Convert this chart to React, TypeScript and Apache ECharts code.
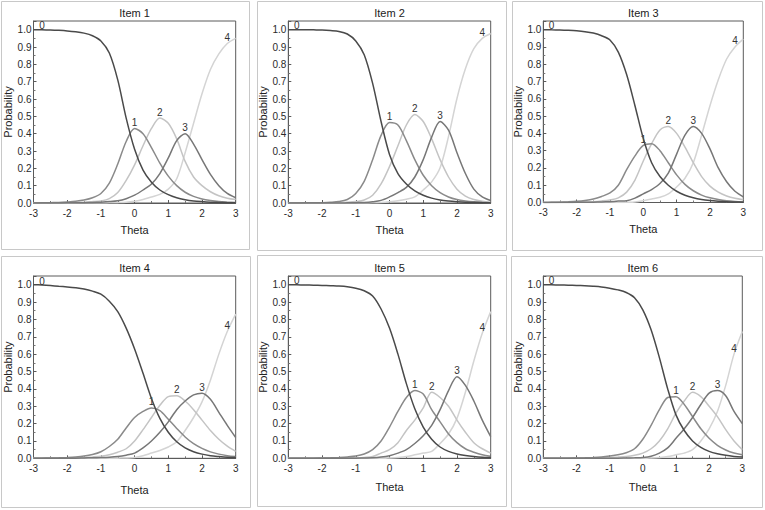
import { useEffect, useRef } from "react";
import * as echarts from "echarts";

// ---------- data ----------
const theta = [-3, -2.75, -2.5, -2.25, -2, -1.75, -1.5, -1.25, -1, -0.75, -0.5, -0.25, 0, 0.25, 0.5, 0.75, 1, 1.25, 1.5, 1.75, 2, 2.25, 2.5, 2.75, 3];
const xTickValues = [-3, -2, -1, 0, 1, 2, 3];
const yTickValues = [0, 0.1, 0.2, 0.3, 0.4, 0.5, 0.6, 0.7, 0.8, 0.9, 1.0];
const categoryNames = ["0", "1", "2", "3", "4"];
const itemTitles = ["Item 1", "Item 2", "Item 3", "Item 4", "Item 5", "Item 6"];

const item1Cat0 = [1.0, 0.999, 0.998, 0.996, 0.993, 0.988, 0.98, 0.965, 0.935, 0.865, 0.71, 0.49, 0.31, 0.19, 0.12, 0.075, 0.048, 0.03, 0.019, 0.012, 0.008, 0.005, 0.003, 0.002, 0.001];
const item1Cat1 = [0.0, 0.001, 0.002, 0.003, 0.006, 0.01, 0.017, 0.03, 0.055, 0.115, 0.225, 0.355, 0.43, 0.4, 0.32, 0.23, 0.155, 0.1, 0.062, 0.038, 0.023, 0.014, 0.008, 0.005, 0.003];
const item1Cat2 = [0, 0, 0.001, 0.001, 0.002, 0.003, 0.005, 0.008, 0.012, 0.025, 0.06, 0.13, 0.22, 0.33, 0.43, 0.49, 0.46, 0.37, 0.24, 0.15, 0.1, 0.065, 0.042, 0.028, 0.02];
const item1Cat3 = [0, 0, 0, 0, 0.001, 0.001, 0.002, 0.003, 0.005, 0.008, 0.013, 0.025, 0.045, 0.075, 0.11, 0.17, 0.26, 0.36, 0.4, 0.34, 0.25, 0.165, 0.1, 0.055, 0.03];
const item1Cat4 = [0, 0, 0, 0, 0, 0, 0, 0, 0, 0.001, 0.002, 0.004, 0.01, 0.02, 0.035, 0.05, 0.08, 0.14, 0.29, 0.46, 0.63, 0.77, 0.86, 0.92, 0.95];

const item2Cat0 = [1.0, 1.0, 1.0, 0.999, 0.998, 0.995, 0.99, 0.975, 0.935, 0.855, 0.69, 0.47, 0.28, 0.17, 0.11, 0.07, 0.045, 0.028, 0.017, 0.011, 0.007, 0.004, 0.003, 0.002, 0.001];
const item2Cat1 = [0, 0, 0.001, 0.001, 0.002, 0.004, 0.008, 0.02, 0.055, 0.125, 0.25, 0.39, 0.465, 0.45, 0.36, 0.25, 0.16, 0.1, 0.06, 0.035, 0.02, 0.012, 0.007, 0.004, 0.002];
const item2Cat2 = [0, 0, 0, 0, 0, 0.001, 0.002, 0.004, 0.008, 0.017, 0.045, 0.11, 0.21, 0.33, 0.45, 0.51, 0.47, 0.37, 0.25, 0.15, 0.08, 0.04, 0.02, 0.01, 0.005];
const item2Cat3 = [0, 0, 0, 0, 0, 0, 0, 0.001, 0.002, 0.003, 0.007, 0.015, 0.035, 0.06, 0.09, 0.15, 0.25, 0.38, 0.47, 0.42, 0.29, 0.17, 0.08, 0.035, 0.014];
const item2Cat4 = [0, 0, 0, 0, 0, 0, 0, 0, 0, 0, 0.001, 0.003, 0.007, 0.013, 0.022, 0.035, 0.075, 0.122, 0.203, 0.384, 0.603, 0.774, 0.89, 0.95, 0.978];

const item3Cat0 = [1.0, 0.999, 0.998, 0.996, 0.993, 0.988, 0.98, 0.965, 0.94, 0.87, 0.74, 0.56, 0.37, 0.23, 0.15, 0.1, 0.065, 0.042, 0.027, 0.017, 0.011, 0.007, 0.004, 0.003, 0.002];
const item3Cat1 = [0, 0.001, 0.002, 0.004, 0.007, 0.012, 0.02, 0.035, 0.055, 0.1, 0.19, 0.27, 0.33, 0.34, 0.3, 0.23, 0.16, 0.105, 0.068, 0.043, 0.027, 0.017, 0.01, 0.006, 0.004];
const item3Cat2 = [0, 0, 0.001, 0.001, 0.002, 0.003, 0.005, 0.009, 0.015, 0.027, 0.06, 0.13, 0.24, 0.34, 0.42, 0.44, 0.4, 0.32, 0.23, 0.15, 0.095, 0.06, 0.038, 0.024, 0.016];
const item3Cat3 = [0, 0, 0, 0, 0.001, 0.001, 0.002, 0.003, 0.005, 0.008, 0.01, 0.025, 0.05, 0.075, 0.11, 0.17, 0.28, 0.39, 0.44, 0.4, 0.31, 0.2, 0.12, 0.065, 0.033];
const item3Cat4 = [0, 0, 0, 0, 0, 0, 0, 0, 0, 0, 0.001, 0.003, 0.01, 0.02, 0.03, 0.05, 0.09, 0.14, 0.23, 0.39, 0.56, 0.71, 0.83, 0.9, 0.945];

const item4Cat0 = [1.0, 0.998, 0.995, 0.991, 0.987, 0.982, 0.975, 0.963, 0.945, 0.905, 0.845, 0.75, 0.63, 0.49, 0.345, 0.23, 0.15, 0.095, 0.06, 0.038, 0.024, 0.015, 0.01, 0.006, 0.004];
const item4Cat1 = [0, 0.001, 0.002, 0.003, 0.005, 0.008, 0.013, 0.022, 0.038, 0.068, 0.11, 0.175, 0.235, 0.27, 0.29, 0.275, 0.225, 0.172, 0.123, 0.084, 0.057, 0.037, 0.024, 0.015, 0.01];
const item4Cat2 = [0, 0, 0.001, 0.001, 0.002, 0.003, 0.005, 0.008, 0.012, 0.02, 0.035, 0.055, 0.1, 0.165, 0.235, 0.305, 0.355, 0.36, 0.33, 0.28, 0.22, 0.16, 0.11, 0.07, 0.04];
const item4Cat3 = [0, 0, 0, 0, 0.001, 0.001, 0.002, 0.003, 0.004, 0.006, 0.01, 0.018, 0.03, 0.06, 0.1, 0.15, 0.21, 0.28, 0.33, 0.365, 0.375, 0.34, 0.265, 0.19, 0.12];
const item4Cat4 = [0, 0, 0, 0, 0, 0, 0, 0, 0, 0, 0.001, 0.002, 0.005, 0.015, 0.03, 0.045, 0.065, 0.095, 0.16, 0.235, 0.325, 0.45, 0.6, 0.73, 0.83];

const item5Cat0 = [1.0, 0.999, 0.998, 0.997, 0.996, 0.994, 0.992, 0.988, 0.98, 0.965, 0.935, 0.86, 0.75, 0.6, 0.43, 0.285, 0.18, 0.11, 0.065, 0.04, 0.025, 0.016, 0.01, 0.006, 0.004];
const item5Cat1 = [0, 0, 0.001, 0.001, 0.002, 0.003, 0.005, 0.008, 0.013, 0.025, 0.05, 0.1, 0.18, 0.27, 0.35, 0.39, 0.37, 0.28, 0.21, 0.14, 0.09, 0.055, 0.035, 0.02, 0.012];
const item5Cat2 = [0, 0, 0, 0, 0, 0.001, 0.001, 0.002, 0.003, 0.005, 0.01, 0.03, 0.05, 0.09, 0.16, 0.22, 0.29, 0.38, 0.35, 0.3, 0.22, 0.15, 0.09, 0.055, 0.03];
const item5Cat3 = [0, 0, 0, 0, 0, 0, 0, 0.001, 0.001, 0.002, 0.003, 0.007, 0.015, 0.03, 0.05, 0.085, 0.13, 0.19, 0.28, 0.39, 0.47, 0.42, 0.33, 0.22, 0.125];
const item5Cat4 = [0, 0, 0, 0, 0, 0, 0, 0, 0, 0, 0, 0, 0.002, 0.005, 0.01, 0.02, 0.03, 0.04, 0.085, 0.14, 0.23, 0.38, 0.56, 0.72, 0.845];

const item6Cat0 = [1.0, 0.999, 0.998, 0.997, 0.996, 0.994, 0.991, 0.987, 0.98, 0.97, 0.955, 0.925, 0.855, 0.74, 0.58, 0.4, 0.25, 0.16, 0.1, 0.063, 0.04, 0.026, 0.017, 0.011, 0.007];
const item6Cat1 = [0, 0, 0.001, 0.001, 0.002, 0.003, 0.005, 0.008, 0.013, 0.02, 0.032, 0.055, 0.11, 0.19, 0.28, 0.35, 0.355, 0.31, 0.24, 0.17, 0.115, 0.075, 0.048, 0.03, 0.02];
const item6Cat2 = [0, 0, 0, 0, 0.001, 0.001, 0.002, 0.003, 0.005, 0.007, 0.01, 0.017, 0.03, 0.055, 0.1, 0.17, 0.26, 0.33, 0.38, 0.355, 0.3, 0.24, 0.165, 0.1, 0.05];
const item6Cat3 = [0, 0, 0, 0, 0, 0, 0, 0.001, 0.001, 0.001, 0.002, 0.003, 0.005, 0.012, 0.03, 0.06, 0.115, 0.17, 0.235, 0.31, 0.375, 0.39, 0.36, 0.27, 0.2];
const item6Cat4 = [0, 0, 0, 0, 0, 0, 0, 0, 0, 0, 0, 0, 0, 0.002, 0.005, 0.01, 0.02, 0.03, 0.05, 0.1, 0.17, 0.27, 0.42, 0.6, 0.73];

// index (into theta) of the point where each category's number label sits
const item1LabelAt = [1, 12, 15, 18, 23];
const item2LabelAt = [1, 12, 15, 18, 23];
const item3LabelAt = [1, 12, 15, 18, 23];
const item4LabelAt = [1, 14, 17, 20, 23];
const item5LabelAt = [1, 15, 17, 20, 23];
const item6LabelAt = [1, 16, 18, 21, 23];

// ---------- layout / style ----------
const FONT = "'Liberation Sans', Arial, Helvetica, sans-serif";
const catColors = ["#4a4a4a", "#8a8a8a", "#c4c4c4", "#777777", "#d4d4d4"];
const drawOrder = [4, 2, 1, 3, 0];
const gridBoxes = [
  { left: 33.5, top: 21, width: 202.2, height: 182 },
  { left: 288.3, top: 21, width: 202.4, height: 182 },
  { left: 543.3, top: 21, width: 200, height: 181.5 },
  { left: 33.5, top: 276, width: 202.2, height: 182.3 },
  { left: 288.3, top: 276, width: 202.4, height: 182.3 },
  { left: 543.3, top: 276, width: 199, height: 182.3 },
];
const panelBoxes = [
  { x: 1.5, y: 1.5, w: 248, h: 248 },
  { x: 257.5, y: 1.5, w: 249, h: 249 },
  { x: 512.5, y: 1.5, w: 250, h: 249 },
  { x: 1.5, y: 256.5, w: 249, h: 251 },
  { x: 257.5, y: 255.5, w: 249, h: 251 },
  { x: 511.5, y: 256.5, w: 251, h: 251 },
];
const xNameGaps = [21, 21, 21, 26, 23, 23];

export default function App() {
  const ref = useRef<HTMLDivElement>(null);

  useEffect(() => {
    document.body.style.margin = "0";
    if (!ref.current) return;
    const chart = echarts.init(ref.current, null, { renderer: "svg" });

    const items = [
      [item1Cat0, item1Cat1, item1Cat2, item1Cat3, item1Cat4],
      [item2Cat0, item2Cat1, item2Cat2, item2Cat3, item2Cat4],
      [item3Cat0, item3Cat1, item3Cat2, item3Cat3, item3Cat4],
      [item4Cat0, item4Cat1, item4Cat2, item4Cat3, item4Cat4],
      [item5Cat0, item5Cat1, item5Cat2, item5Cat3, item5Cat4],
      [item6Cat0, item6Cat1, item6Cat2, item6Cat3, item6Cat4],
    ];
    const labelAt = [item1LabelAt, item2LabelAt, item3LabelAt, item4LabelAt, item5LabelAt, item6LabelAt];

    const grid = gridBoxes.map((g) => ({
      ...g,
      show: true,
      borderColor: "#5a5a5a",
      borderWidth: 1,
      backgroundColor: "transparent",
    }));

    const xAxis = gridBoxes.map((_, k) => ({
      type: "value",
      gridIndex: k,
      min: -3,
      max: 3,
      interval: 1,
      name: "Theta",
      nameLocation: "middle",
      nameGap: xNameGaps[k],
      nameTextStyle: { fontFamily: FONT, fontSize: 11, color: "#222" },
      axisLine: { show: true, onZero: false, lineStyle: { color: "#5a5a5a", width: 1 } },
      axisTick: { show: true, length: 3, inside: true, lineStyle: { color: "#5a5a5a" } },
      minorTick: { show: true, splitNumber: 2, length: 2, lineStyle: { color: "#777" } },
      splitLine: { show: false },
      axisLabel: {
        margin: 5,
        fontFamily: FONT,
        fontSize: 10,
        color: "#2a2a2a",
        formatter: (v: number) => (xTickValues.includes(v) ? String(v) : ""),
      },
    }));

    const yAxis = gridBoxes.map((_, k) => ({
      type: "value",
      gridIndex: k,
      min: 0,
      max: 1.05,
      interval: 0.1,
      name: "Probability",
      nameLocation: "middle",
      nameGap: 13,
      nameTextStyle: { fontFamily: FONT, fontSize: 11, color: "#222" },
      axisLine: { show: true, onZero: false, lineStyle: { color: "#5a5a5a", width: 1 } },
      axisTick: { show: true, length: 3, inside: true, lineStyle: { color: "#5a5a5a" } },
      minorTick: { show: true, splitNumber: 2, length: 2, lineStyle: { color: "#777" } },
      splitLine: { show: false },
      axisLabel: {
        margin: 2,
        fontFamily: FONT,
        fontSize: 10,
        color: "#2a2a2a",
        customValues: yTickValues,
        formatter: (v: number) =>
          yTickValues.some((t) => Math.abs(t - v) < 1e-6) ? v.toFixed(1) : "",
      },
    }));

    const series: any[] = [];
    items.forEach((cats, k) => {
      drawOrder.forEach((c, order) => {
        series.push({
          type: "line",
          name: `${itemTitles[k]} ${categoryNames[c]}`,
          xAxisIndex: k,
          yAxisIndex: k,
          smooth: 0.3,
          symbol: "circle",
          symbolSize: 0,
          showSymbol: true,
          showAllSymbol: true,
          z: 2 + order,
          lineStyle: { color: catColors[c], width: 1.5 },
          itemStyle: { color: catColors[c] },
          emphasis: { disabled: true },
          silent: true,
          data: theta.map((t, i) =>
            i === labelAt[k][c]
              ? {
                  value: [t, cats[c][i]],
                  label: {
                    show: true,
                    formatter: categoryNames[c],
                    position: "top",
                    distance: c === 0 ? -1 : 1,
                    fontFamily: FONT,
                    fontSize: 10,
                    color: "#333",
                  },
                }
              : [t, cats[c][i]]
          ),
        });
      });
    });

    const graphic: any[] = [];
    panelBoxes.forEach((p) => {
      graphic.push({
        type: "rect",
        shape: { x: p.x, y: p.y, width: p.w, height: p.h },
        style: { fill: "none", stroke: "#c8c8c8", lineWidth: 1 },
        silent: true,
      });
    });
    gridBoxes.forEach((g, k) => {
      graphic.push({
        type: "text",
        x: g.left + g.width / 2,
        y: g.top - 8,
        style: {
          text: itemTitles[k],
          fontFamily: FONT,
          fontSize: 11,
          fill: "#222",
          align: "center",
          verticalAlign: "middle",
          textAlign: "center",
          textVerticalAlign: "middle",
        },
        silent: true,
      });
    });

    chart.setOption({
      animation: false,
      backgroundColor: "#ffffff",
      grid,
      xAxis,
      yAxis,
      series,
      graphic,
    });

    return () => chart.dispose();
  }, []);

  return <div ref={ref} style={{ width: 765, height: 510 }} />;
}
